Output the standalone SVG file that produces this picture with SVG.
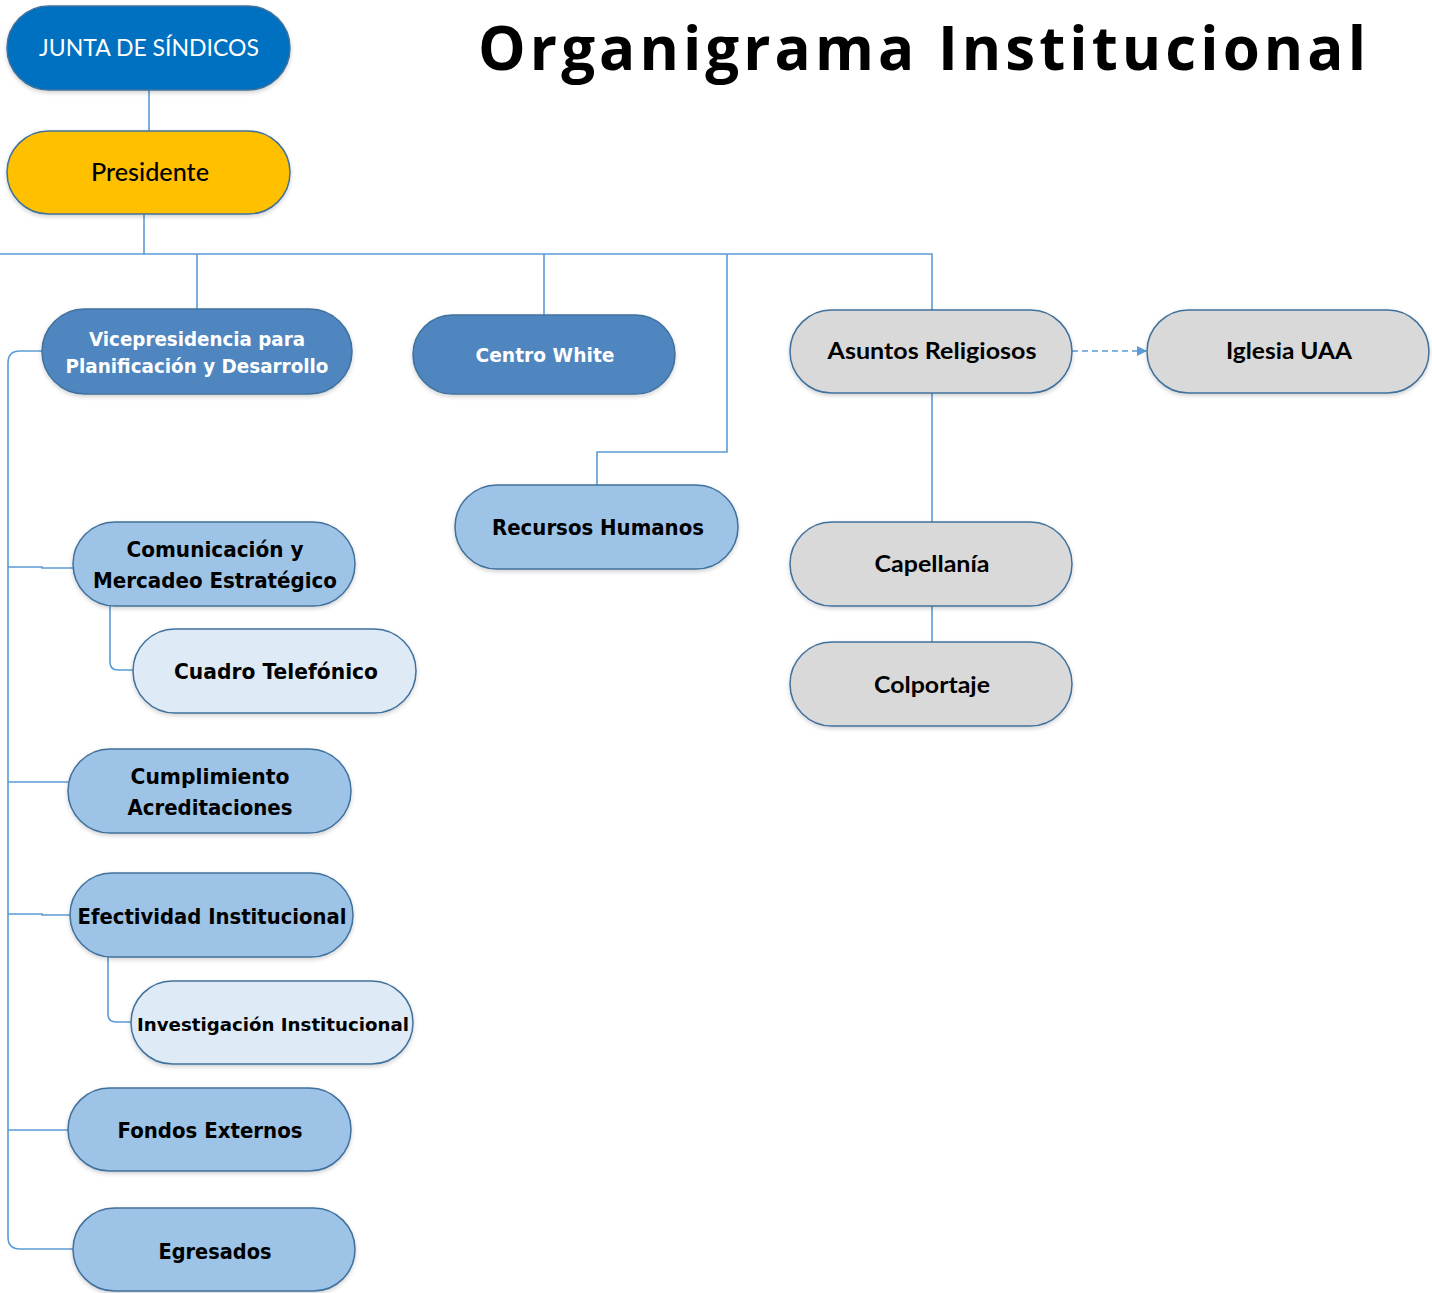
<svg xmlns="http://www.w3.org/2000/svg" width="1432" height="1293" viewBox="0 0 1432 1293">
<defs>
<filter id="sh" x="-10%" y="-10%" width="120%" height="130%">
<feDropShadow dx="0" dy="2" stdDeviation="2" flood-color="#000" flood-opacity="0.18"/>
</filter>
<marker id="arr" viewBox="0 0 10 10" refX="9" refY="5" markerWidth="10" markerHeight="10" markerUnits="userSpaceOnUse" orient="auto">
<path d="M0,0 L10,5 L0,10 z" fill="#5B9BD5"/>
</marker>
</defs>
<style>
.n{stroke:#41719C;stroke-width:1.5;filter:url(#sh)}
.dark{fill:#0070C0}
.gold{fill:#FFC000}
.mid{fill:#4F86C0}
.light{fill:#9DC3E6}
.pale{fill:#DEEBF7}
.gray{fill:#D9D9D9}
.c{fill:none;stroke:#5B9BD5;stroke-width:1.6}
.t{font-family:Lato,"Open Sans",sans-serif;text-anchor:middle}
.v{font-family:"DejaVu Sans",Verdana,sans-serif;font-weight:bold;text-anchor:middle}
.w{fill:#fff}
.k{fill:#000}
</style>
<rect width="1432" height="1293" fill="#fff"/>
<text x="922" y="70" font-family="'Open Sans',sans-serif" font-weight="bold" font-size="60" text-anchor="middle" textLength="888" lengthAdjust="spacing" fill="#000">Organigrama Institucional</text>

<g id="connectors">
<path class="c" d="M149,90 V131"/>
<path class="c" d="M144,214 V254"/>
<path class="c" d="M0,254 H932 V310"/>
<path class="c" d="M197,254 V310"/>
<path class="c" d="M544,254 V316"/>
<path class="c" d="M727,254 V452 H597 V486"/>
<path class="c" d="M932,393 V522"/>
<path class="c" d="M932,606 V642"/>
<path class="c" d="M1072,351 H1146" stroke-dasharray="6,4" marker-end="url(#arr)"/>
<path class="c" d="M42,351 H20 Q8,351 8,363 V1237 Q8,1249 20,1249 H73"/>
<path class="c" d="M8,567 H42 V568 H73"/>
<path class="c" d="M8,782 H68"/>
<path class="c" d="M8,914 H42 V915 H70"/>
<path class="c" d="M8,1130 H68"/>
<path class="c" d="M110,606 V662 Q110,670 118,670 H134"/>
<path class="c" d="M108,957 V1014 Q108,1022 116,1022 H131"/>
</g>

<g id="junta"><rect class="n dark" x="7" y="6" width="283" height="84" rx="42"/><text class="t w" x="149" y="56" font-size="23" textLength="220" lengthAdjust="spacingAndGlyphs">JUNTA DE SÍNDICOS</text></g>
<g id="presidente"><rect class="n gold" x="7" y="131" width="283" height="83" rx="41.5"/><text class="t k" x="150" y="181" font-size="24" font-weight="500" textLength="118" lengthAdjust="spacingAndGlyphs">Presidente</text></g>
<g id="vicepresidencia"><rect class="n mid" x="42" y="309" width="310" height="85" rx="42.5"/><text class="v w" x="197" y="346" font-size="19" textLength="216" lengthAdjust="spacingAndGlyphs">Vicepresidencia para</text><text class="v w" x="197" y="373" font-size="19" textLength="263" lengthAdjust="spacingAndGlyphs">Planificación y Desarrollo</text></g>
<g id="centro-white"><rect class="n mid" x="413" y="315" width="262" height="79" rx="39.5"/><text class="v w" x="545" y="362" font-size="19" textLength="139" lengthAdjust="spacingAndGlyphs">Centro White</text></g>
<g id="asuntos"><rect class="n gray" x="790" y="310" width="282" height="83" rx="41.5"/><text class="t k" x="932" y="359" font-size="23" font-weight="bold" textLength="209" lengthAdjust="spacingAndGlyphs">Asuntos Religiosos</text></g>
<g id="iglesia"><rect class="n gray" x="1147" y="310" width="282" height="83" rx="41.5"/><text class="t k" x="1289" y="359" font-size="23" font-weight="bold" textLength="126" lengthAdjust="spacingAndGlyphs">Iglesia UAA</text></g>
<g id="recursos"><rect class="n light" x="455" y="485" width="283" height="84" rx="42"/><text class="v k" x="598" y="535" font-size="21" textLength="212" lengthAdjust="spacingAndGlyphs">Recursos Humanos</text></g>
<g id="capellania"><rect class="n gray" x="790" y="522" width="282" height="84" rx="42"/><text class="t k" x="932" y="572" font-size="23" font-weight="bold" textLength="115" lengthAdjust="spacingAndGlyphs">Capellanía</text></g>
<g id="colportaje"><rect class="n gray" x="790" y="642" width="282" height="84" rx="42"/><text class="t k" x="932" y="693" font-size="23" font-weight="bold" textLength="116" lengthAdjust="spacingAndGlyphs">Colportaje</text></g>
<g id="comunicacion"><rect class="n light" x="73" y="522" width="282" height="84" rx="42"/><text class="v k" x="215" y="557" font-size="21" textLength="177" lengthAdjust="spacingAndGlyphs">Comunicación y</text><text class="v k" x="215" y="588" font-size="21" textLength="244" lengthAdjust="spacingAndGlyphs">Mercadeo Estratégico</text></g>
<g id="cuadro"><rect class="n pale" x="133" y="629" width="283" height="84" rx="42"/><text class="v k" x="276" y="679" font-size="21" textLength="204" lengthAdjust="spacingAndGlyphs">Cuadro Telefónico</text></g>
<g id="cumplimiento"><rect class="n light" x="68" y="749" width="283" height="84" rx="42"/><text class="v k" x="210" y="784" font-size="21" textLength="159" lengthAdjust="spacingAndGlyphs">Cumplimiento</text><text class="v k" x="210" y="815" font-size="21" textLength="165" lengthAdjust="spacingAndGlyphs">Acreditaciones</text></g>
<g id="efectividad"><rect class="n light" x="70" y="873" width="283" height="84" rx="42"/><text class="v k" x="212" y="924" font-size="21" textLength="269" lengthAdjust="spacingAndGlyphs">Efectividad Institucional</text></g>
<g id="investigacion"><rect class="n pale" x="131" y="981" width="282" height="83" rx="41.5"/><text class="v k" x="273" y="1031" font-size="18" textLength="272" lengthAdjust="spacingAndGlyphs">Investigación Institucional</text></g>
<g id="fondos"><rect class="n light" x="68" y="1088" width="283" height="83" rx="41.5"/><text class="v k" x="210" y="1138" font-size="21" textLength="185" lengthAdjust="spacingAndGlyphs">Fondos Externos</text></g>
<g id="egresados"><rect class="n light" x="73" y="1208" width="282" height="83" rx="41.5"/><text class="v k" x="215" y="1259" font-size="21" textLength="113" lengthAdjust="spacingAndGlyphs">Egresados</text></g>
</svg>
